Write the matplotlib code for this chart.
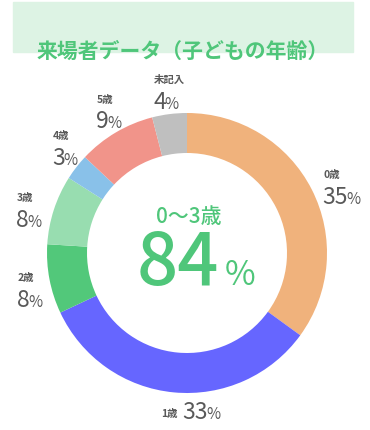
import matplotlib
matplotlib.use("Agg")
import matplotlib.pyplot as plt
from matplotlib.patches import Rectangle

plt.rcParams['font.family'] = ['Noto Sans CJK JP', 'DejaVu Sans']

# data (clockwise from top)
ages = ['0歳', '1歳', '2歳', '3歳', '4歳', '5歳', '未記入']
shares = [35, 33, 8, 8, 3, 9, 4]
colors = ['#f0b27c', '#6666ff', '#52c87a', '#98ddb0', '#89c1e9', '#f1948a', '#bfbfbf']
title = '来場者データ（子どもの年齢）'
center_label = '0〜3歳'
center_value = 84

# label anchors in pixels (left x, y of small label, y of percentage)
label_pos = {
    '0歳': (322, 175, 196),
    '2歳': (17, 278, 299),
    '3歳': (16, 198, 219),
    '4歳': (52, 136, 157),
    '5歳': (96, 100, 120),
    '未記入': (153, 80, 101),
}

gray = '#595959'
green = '#4fc67a'

fig = plt.figure(figsize=(3.7, 4.3), dpi=100)
ax = fig.add_axes([0, 0, 1, 1])

ax.pie(shares, colors=colors, startangle=-90, counterclock=True,
       center=(187, 253), radius=140,
       wedgeprops=dict(width=40, linewidth=0))
ax.set_xlim(0, 370)
ax.set_ylim(430, 0)
ax.axis('off')

# header box and title
ax.add_patch(Rectangle((13, 2), 340, 50, color='#ddf3e4', zorder=0))
ax.text(183, 51, title, ha='center', va='center', fontsize=15,
        fontweight='bold', color=green)

renderer = fig.canvas.get_renderer()
inv = ax.transData.inverted()


def pct(x, y, num, size, psize, color, gap=-1, weight='normal'):
    t = ax.text(x, y, str(num), ha='left', va='baseline', fontsize=size,
                color=color, fontweight=weight)
    bb = t.get_window_extent(renderer)
    x1 = inv.transform((bb.x1, bb.y0))[0]
    ax.text(x1 + gap, y, '%', ha='left', va='baseline', fontsize=psize,
            color=color)


for age, v in zip(ages, shares):
    if age == '1歳':
        continue
    x, ly, py = label_pos[age]
    ax.text(x + 1, ly, age, ha='left', va='center', fontsize=7.5,
            color=gray, fontweight='bold')
    pct(x, py + 8, v, 16.5, 11, gray)

# 1歳 on one line under the ring
ax.text(161, 414, '1歳', ha='left', va='center', fontsize=7.5, color=gray,
        fontweight='bold')
pct(182, 419, shares[1], 16.5, 11, gray)

# center text
ax.text(189, 217, center_label, ha='center', va='center', fontsize=15,
        color=green, fontweight='medium')
pct(137, 285, center_value, 52, 24, green, gap=5, weight='medium')

fig.savefig('out.png', dpi=100, facecolor='white')
